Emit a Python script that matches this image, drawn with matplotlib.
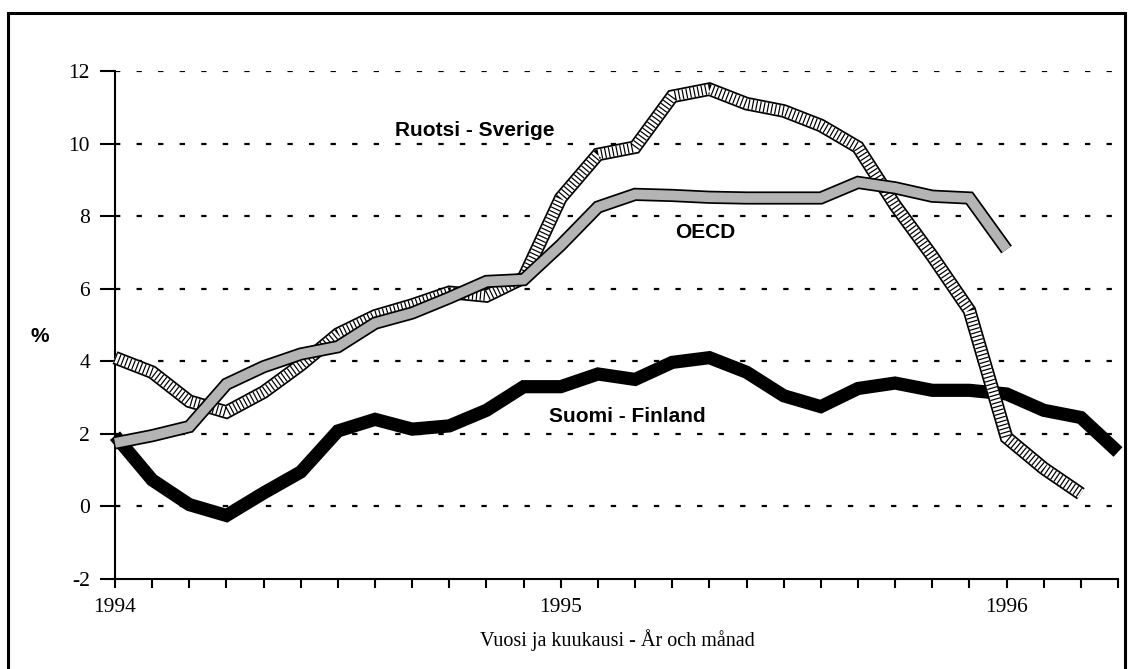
import matplotlib
matplotlib.use("Agg")
import matplotlib.pyplot as plt
from matplotlib.patches import Rectangle

# ---- data (monthly, index 0 = Jan 1994) ----
finland = [1.95, 0.73, 0.05, -0.25, 0.37, 0.95, 2.08, 2.4, 2.13, 2.22, 2.65, 3.3, 3.3,
           3.65, 3.5, 3.97, 4.1, 3.7, 3.05, 2.75, 3.25, 3.4, 3.2, 3.2, 3.1, 2.65, 2.45, 1.5]
sweden = [4.1, 3.7, 2.9, 2.6, 3.15, 3.9, 4.75, 5.25, 5.55, 5.9, 5.8, 6.3, 8.5,
          9.7, 9.9, 11.3, 11.5, 11.1, 10.9, 10.5, 9.9, 8.3, 6.9, 5.4, 1.9, 1.05, 0.35]
oecd = [1.75, 1.95, 2.2, 3.37, 3.85, 4.2, 4.4, 5.05, 5.33, 5.75, 6.2, 6.25, 7.2,
        8.25, 8.6, 8.57, 8.52, 8.5, 8.5, 8.5, 8.93, 8.78, 8.55, 8.5, 7.08]
n_months = 28
year_labels = ["1994", "1995", "1996"]
year_months = [0, 12, 24]
y_ticks = [-2, 0, 2, 4, 6, 8, 10, 12]
series_labels = ["Ruotsi - Sverige", "OECD", "Suomi - Finland"]
xlabel = "Vuosi ja kuukausi - År och månad"

W, H = 1133, 669
fig = plt.figure(figsize=(W / 100, H / 100), dpi=100)
ax = fig.add_axes([115 / W, 1 - 579 / H, (1118 - 115) / W, (579 - 71) / H])

serif = ["Liberation Serif", "DejaVu Serif"]
sans = ["Liberation Sans", "DejaVu Sans"]

ax.set_xlim(0, n_months - 1)
ax.set_ylim(-2, 12)

# grid
for v in y_ticks[1:]:
    ax.axhline(v, color="black", lw=1.6, linestyle=(0, (2.4, 7.3)), zorder=1)

xf = list(range(len(finland)))
xs = list(range(len(sweden)))
xo = list(range(len(oecd)))

# Finland: thick black
ax.plot(xf, finland, color="black", lw=9.5, solid_joinstyle="miter",
        solid_capstyle="butt", zorder=3, clip_on=False)

# Sweden: outlined hatched band
ax.plot(xs, sweden, color="black", lw=9.8, solid_joinstyle="miter",
        solid_capstyle="butt", zorder=4, clip_on=False)
ax.plot(xs, sweden, color="white", lw=7.3, solid_joinstyle="miter",
        solid_capstyle="butt", zorder=4.1, clip_on=False)
ax.plot(xs, sweden, color="black", lw=7.3, linestyle=(0, (0.12, 0.26)),
        dash_capstyle="butt", zorder=4.2, clip_on=False)

# OECD: outlined stippled band
ax.plot(xo, oecd, color="black", lw=9.5, solid_joinstyle="miter",
        solid_capstyle="butt", zorder=5, clip_on=False)
ax.plot(xo, oecd, color="#b4b4b4", lw=7.0, solid_joinstyle="miter",
        solid_capstyle="butt", zorder=5.1, clip_on=False)

# axes styling
for s in ["top", "right"]:
    ax.spines[s].set_visible(False)
for s in ["left", "bottom"]:
    ax.spines[s].set_linewidth(1.5)

ax.set_yticks(y_ticks)
ax.set_yticklabels([str(v) for v in y_ticks], fontfamily=serif, fontsize=15.5)
ax.tick_params(axis="y", direction="out", length=11, width=1.5, pad=7)

ax.set_xticks(range(n_months))
xt = [""] * n_months
for m, lab in zip(year_months, year_labels):
    xt[m] = lab
ax.set_xticklabels(xt, fontfamily=serif, fontsize=15.5)
ax.tick_params(axis="x", direction="out", length=6.5, width=1.5, pad=7)

# series labels
fig.text(475 / W, 1 - 130 / H, series_labels[0], fontsize=15, fontweight="bold",
         fontfamily=sans, ha="center", va="center")
fig.text(705 / W, 1 - 232 / H, series_labels[1], fontsize=15, fontweight="bold",
         fontfamily=sans, ha="center", va="center")
fig.text(627 / W, 1 - 417 / H, series_labels[2], fontsize=15, fontweight="bold",
         fontfamily=sans, ha="center", va="center")

fig.text(40 / W, 1 - 337 / H, "%", fontsize=15, fontweight="bold",
         fontfamily=sans, ha="center", va="center")
fig.text(617 / W, 1 - 640 / H, xlabel, fontsize=14.5, fontfamily=serif,
         ha="center", va="center")

# outer frame
fig.patches.append(Rectangle((8 / W, -0.05), (1125 - 8) / W, 1.05 - 13 / H,
                             transform=fig.transFigure, fill=False, lw=2.2,
                             edgecolor="black"))

fig.savefig("out.png", dpi=100)
